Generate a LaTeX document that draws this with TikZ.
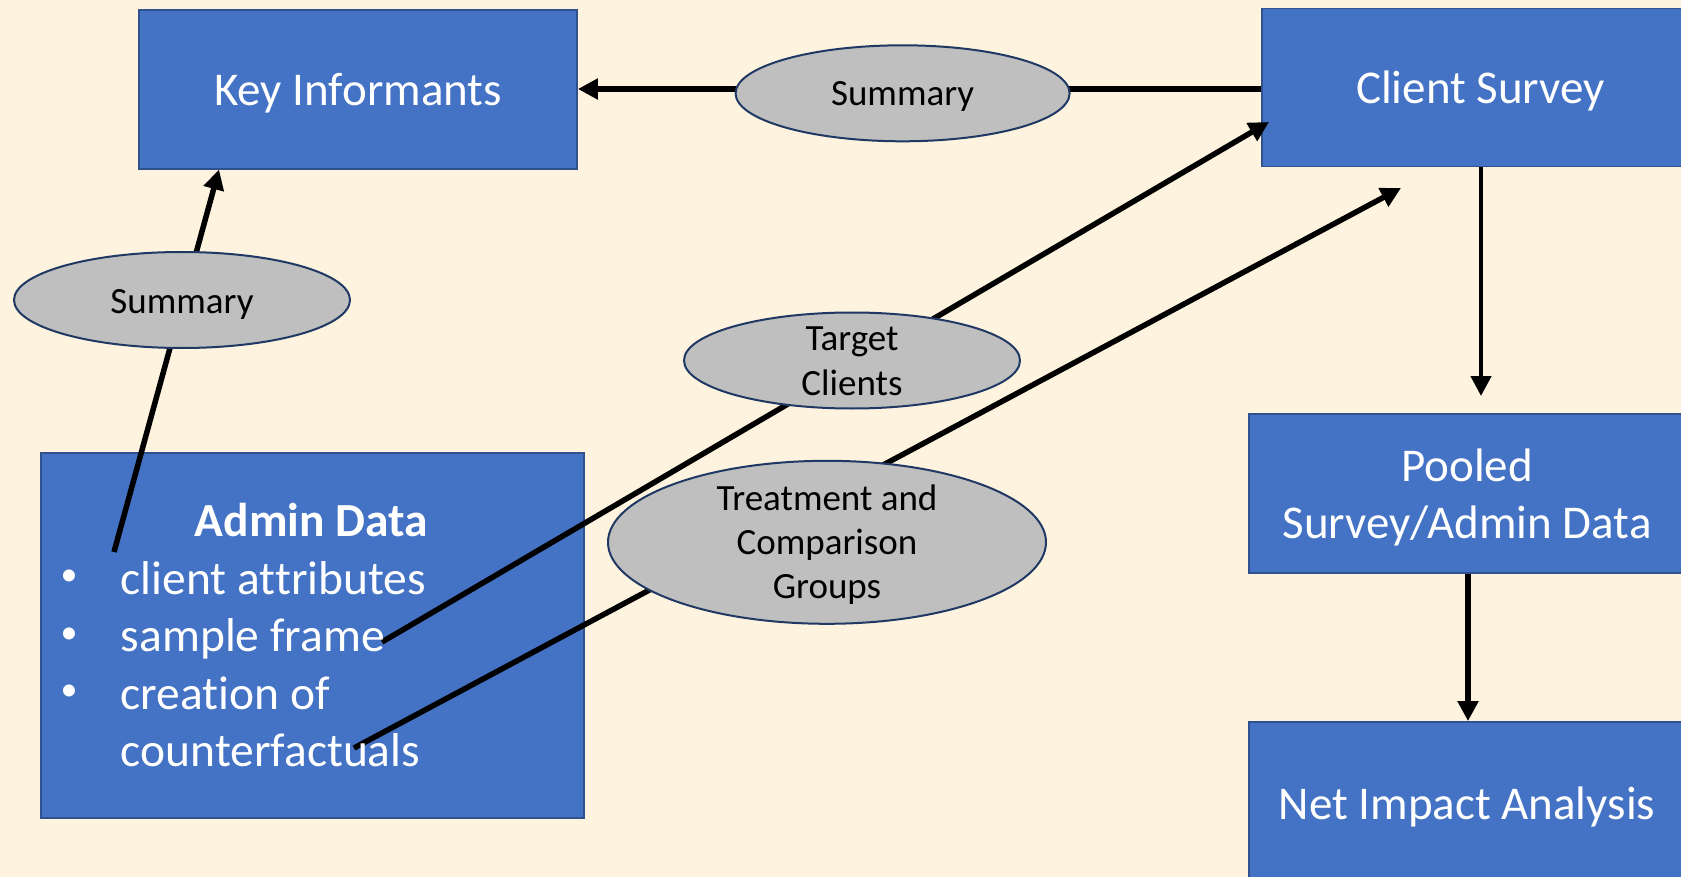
\documentclass[tikz,border=0pt]{standalone}
\usepackage{fontspec}
\setmainfont[Ligatures=NoCommon]{Carlito}
\usetikzlibrary{arrows.meta,shapes.geometric}
\definecolor{paper}{RGB}{253,243,222}
\definecolor{boxblue}{HTML}{4472C4}
\definecolor{boxedge}{HTML}{2F528F}
\definecolor{ovalgray}{HTML}{BFBFBF}
\definecolor{ovaledge}{HTML}{1F3864}

\begin{document}
\begin{tikzpicture}[x=1pt,y=-1pt,
  box/.style={draw=boxedge, line width=1.8pt, fill=boxblue, inner sep=0pt},
  boxtext/.style={text=white, inner sep=0pt, anchor=base, font=\fontsize{47}{58}\selectfont},
  admintext/.style={text=white, inner sep=0pt, anchor=base west, font=\fontsize{47.5}{58}\selectfont},
  bullettext/.style={text=white, inner sep=0pt, anchor=center, font=\fontsize{34}{40}\selectfont},
  oval/.style={ellipse, draw=ovaledge, line width=2pt, fill=ovalgray, inner sep=0pt},
  ovaltext/.style={text=black, inner sep=0pt, anchor=base, font=\fontsize{37}{44}\selectfont},
  link/.style={line width=5.5pt},
  arr/.style={link, -{Triangle[length=20pt,width=20pt]}},
]
% page and background
\useasboundingbox (0,0) rectangle (1681,877);
\clip (0,0) rectangle (1681,877);
\fill[paper] (0,0) rectangle (1681,877);

% boxes
\node[box, minimum width=438pt, minimum height=159pt] (ki) at (358,89.5) {};
\node[box, minimum width=438pt, minimum height=158pt] (cs) at (1481,87.5) {};
\node[box, minimum width=437pt, minimum height=159pt] (pool) at (1467.5,493.5) {};
\node[box, minimum width=437pt, minimum height=162pt] (net) at (1467.5,803) {};
\node[box, minimum width=543pt, minimum height=365pt] (admin) at (312.3,635.8) {};

% free ends of the connectors
\coordinate (fromhead) at (114,552);
\coordinate (fromframe) at (382,642);
\coordinate (fromcounter) at (354,748);
\coordinate (kiin) at (219,169.5);
\coordinate (csin) at (1269,122);
\coordinate (csbelow) at (1401,188);

% connectors
\draw[arr] (cs.west |- 0,89) -- (ki.east |- 0,89);
\draw[arr] (fromhead) -- (kiin);
\draw[arr] (fromframe) -- (csin);
\draw[arr] (fromcounter) -- (csbelow);
\draw[link, line width=4.5pt, -{Triangle[length=20pt,width=20pt]}] (cs.south -| 1481,0) -- (1481,396);
\draw[arr] (pool.south -| 1468,0) -- (net.north -| 1468,0);

% labels on the connectors
\node[oval, minimum width=334pt, minimum height=96pt] (sumtop) at (902.6,93.3) {};
\node[oval, minimum width=336pt, minimum height=96pt] (sumleft) at (182,300) {};
\node[oval, minimum width=336pt, minimum height=96pt] (target) at (852,360.5) {};
\node[oval, minimum width=438pt, minimum height=163pt] (treat) at (827,542.3) {};

% texts
\node[boxtext] (kit) at (358,106) {Key Informants};
\node[boxtext] (cst) at (1480.5,104) {Client Survey};
\node[boxtext] (poolt1) at (1467,481) {Pooled};
\node[boxtext] (poolt2) at (1467,538.3) {Survey/Admin Data};
\node[boxtext] (nett) at (1467,819) {Net Impact Analysis};

\node[boxtext, font=\fontsize{47.5}{58}\selectfont\bfseries] (adminhead) at (311.6,536.7) {Admin Data};
\node[bullettext] (b1) at (69,578) {•};
\node[bullettext] (b2) at (69,635.7) {•};
\node[bullettext] (b3) at (69,693) {•};
\node[admintext] (i1) at (120.7,594) {client attributes};
\node[admintext] (i2) at (120.7,651.7) {sample frame};
\node[admintext] (i3) at (120.7,709) {creation of};
\node[admintext] (i4) at (120.7,766.7) {counterfactuals};

\node[ovaltext] (sumtopt) at (902.6,106) {Summary};
\node[ovaltext] (sumleftt) at (182,313) {Summary};
\node[ovaltext] (targett1) at (852,350.7) {Target};
\node[ovaltext] (targett2) at (852,395.7) {Clients};
\node[ovaltext] (treatt1) at (827,510) {Treatment and};
\node[ovaltext] (treatt2) at (827,554.3) {Comparison};
\node[ovaltext] (treatt3) at (827,598.3) {Groups};
\end{tikzpicture}
\end{document}
